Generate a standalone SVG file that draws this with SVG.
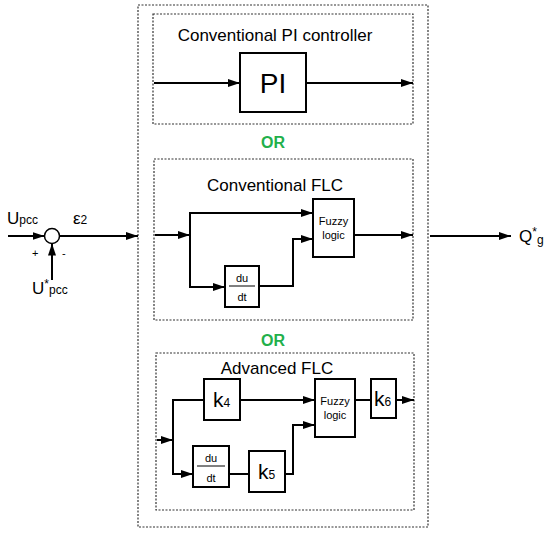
<svg xmlns="http://www.w3.org/2000/svg" width="550" height="534" viewBox="0 0 550 534">
<style>
text{font-family:"Liberation Sans",Arial,sans-serif;fill:#000}
.dash{fill:none;stroke:#333;stroke-width:1.2;stroke-dasharray:2 1.5}
.blk{fill:#fff;stroke:#000;stroke-width:2}
.ln{fill:none;stroke:#000;stroke-width:2}
.t{font-size:17px;text-anchor:middle}
.s{font-size:11px;text-anchor:middle}
.or{font-size:16px;font-weight:bold;fill:#22b04b;text-anchor:middle}
</style>
<defs>
<marker id="ah" markerWidth="12" markerHeight="8" refX="12" refY="4" orient="auto" markerUnits="userSpaceOnUse">
<path d="M0,0 L12,4 L0,8 Z" fill="#000"/>
</marker>
</defs>
<g id="outer"><rect class="dash" x="138" y="5" width="290" height="522"/></g>
<g id="pi-section">
<rect class="dash" x="153" y="14" width="260" height="110"/>
<text class="t" x="275" y="41">Conventional PI controller</text>
</g>
<g id="pi"><rect class="blk" x="240" y="53" width="66" height="59"/><text x="273" y="93" font-size="28" text-anchor="middle">PI</text></g>
<text class="or" x="273" y="148">OR</text>
<g id="flc-section">
<rect class="dash" x="154" y="159" width="259" height="161"/>
<text class="t" x="275" y="191">Conventional FLC</text>
</g>
<g id="fuzzy1"><rect class="blk" x="313" y="199" width="41" height="58"/><text class="s" x="333.5" y="225">Fuzzy</text><text class="s" x="333.5" y="239">logic</text></g>
<g id="dudt1"><rect class="blk" x="225" y="266" width="34" height="41"/><text class="s" x="242" y="282">du</text><line x1="229" y1="286" x2="255" y2="286" stroke="#000" stroke-width="1"/><text class="s" x="242" y="301">dt</text></g>
<text class="or" x="273" y="346">OR</text>
<g id="adv-section">
<rect class="dash" x="156" y="353" width="258" height="157"/>
<text class="t" x="277" y="374">Advanced FLC</text>
</g>
<g id="k4"><rect class="blk" x="204" y="379" width="36" height="41"/><text x="213" y="407" font-size="21">k<tspan font-size="12">4</tspan></text></g>
<g id="dudt2"><rect class="blk" x="193" y="446" width="36" height="41"/><text class="s" x="211" y="462">du</text><line x1="197" y1="466" x2="225" y2="466" stroke="#000" stroke-width="1"/><text class="s" x="211" y="482">dt</text></g>
<g id="k5"><rect class="blk" x="249" y="451" width="36" height="41"/><text x="258" y="479" font-size="21">k<tspan font-size="12">5</tspan></text></g>
<g id="fuzzy2"><rect class="blk" x="315" y="379" width="40" height="58"/><text class="s" x="335" y="405">Fuzzy</text><text class="s" x="335" y="419">logic</text></g>
<g id="k6"><rect class="blk" x="371" y="379" width="25" height="39"/><text x="374" y="406" font-size="21">k<tspan font-size="12">6</tspan></text></g>
<g id="sum"><circle cx="52" cy="236" r="7.5" fill="#fff" stroke="#000" stroke-width="1.5"/></g>
<g id="labels">
<text x="7" y="224" font-size="17">U<tspan font-size="12">pcc</tspan></text>
<text x="32" y="294" font-size="17">U<tspan font-size="12" dy="-6">*</tspan><tspan font-size="12" dy="6">pcc</tspan></text>
<text x="73" y="224" font-size="17">ε<tspan font-size="12">2</tspan></text>
<text x="32" y="257" font-size="11">+</text>
<text x="62" y="257" font-size="11">-</text>
<text x="519" y="242" font-size="17">Q<tspan font-size="12" dy="-6">*</tspan><tspan font-size="12" dy="8">g</tspan></text>
</g>
<g id="connectors">
<path class="ln" d="M8,236 H44.5" stroke-width="1.5" marker-end="url(#ah)"/>
<path class="ln" d="M52,280 V243.5" stroke-width="1.5" marker-end="url(#ah)"/>
<path class="ln" d="M59.5,236 H138" stroke-width="1.5" marker-end="url(#ah)"/>
<path class="ln" d="M430,236 H511" stroke-width="1.5" marker-end="url(#ah)"/>
<path class="ln" d="M154,83 H240" marker-end="url(#ah)"/>
<path class="ln" d="M306,83 H413" marker-end="url(#ah)"/>
<path class="ln" d="M155,235 H190" marker-end="url(#ah)"/>
<path class="ln" d="M190,287 V213 H313" marker-end="url(#ah)"/>
<path class="ln" d="M190,235 V287 H225" marker-end="url(#ah)"/>
<path class="ln" d="M259,286 H293 V239 H313" marker-end="url(#ah)"/>
<path class="ln" d="M354,235 H413" marker-end="url(#ah)"/>
<path class="ln" d="M157,440 H173" marker-end="url(#ah)"/>
<path class="ln" d="M173,474 V400 H204"/>
<path class="ln" d="M173,440 V474 H193" marker-end="url(#ah)"/>
<path class="ln" d="M240,400 H315" marker-end="url(#ah)"/>
<path class="ln" d="M229,474 H249"/>
<path class="ln" d="M285,474 H293 V425 H315" marker-end="url(#ah)"/>
<path class="ln" d="M355,400 H371"/>
<path class="ln" d="M396,400 H414" marker-end="url(#ah)"/>
</g>
</svg>
